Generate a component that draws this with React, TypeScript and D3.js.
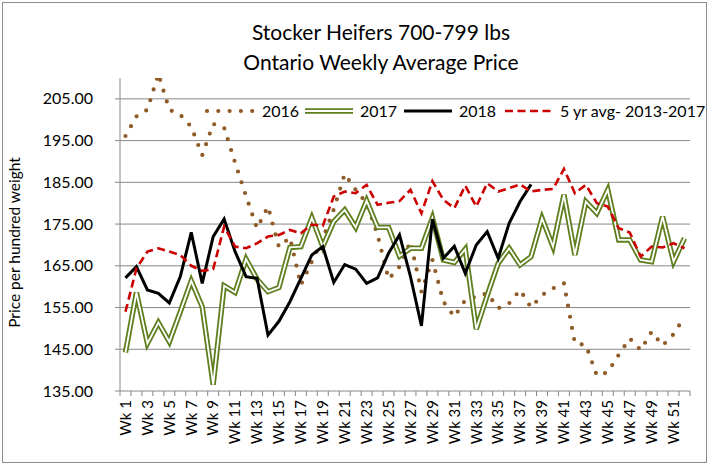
import * as d3 from 'd3'

const weeks = d3.range(1, 53).map((w) => `Wk ${w}`)
const tickWeeks = weeks.filter((_, i) => i % 2 === 0)
const yTicks = [135, 145, 155, 165, 175, 185, 195, 205]

const y2016 = [196.1, 200.8, 202.4, 211, 202.4, 201.2, 198.3, 191.5, 199, 198.1, 189.7, 181.7, 174, 179.2, 169.5, 171.8, 160.4, 166, 171.5, 178.5, 187, 183.2, 180, 172.4, 161.8, 164.8, 170.8, 158.8, 166.4, 156.4, 152.8, 156.8, 157.6, 158.4, 154.8, 156, 159.2, 155, 158, 159.6, 160.8, 146.4, 146, 138.7, 139.5, 143.7, 147.6, 144.8, 149.2, 145.9, 148.6, 152.8]
const y2017 = [144.2, 158.6, 146.4, 151.4, 146.8, 154, 161.4, 155.2, 136.5, 160.2, 158.6, 166.6, 161.8, 158.8, 159.8, 169.4, 169.6, 176.5, 169.6, 175.6, 178.4, 174.2, 180.6, 174.2, 174.2, 167.3, 169.2, 169.2, 176.5, 166.4, 165.8, 169, 149.8, 157.9, 165.6, 169.2, 165.2, 167.2, 176.4, 169.6, 182, 167.6, 180.4, 177.6, 183.2, 171.2, 171.2, 166.4, 166, 176.8, 166, 171.6]
const y2018 = [162.1, 164.8, 159.2, 158.4, 156.1, 162.4, 173, 160.8, 172, 176.2, 168.4, 162.4, 162, 148.4, 151.7, 156.4, 162, 167.6, 169.6, 161, 165.3, 164.2, 160.8, 162.1, 168, 172.4, 162.4, 150.6, 176.2, 166.8, 169.7, 163.2, 170, 173.2, 166.8, 175.2, 180.4, 184.5]
const y5yr = [154, 164.4, 168.4, 169.2, 168.4, 167.6, 165, 163.8, 164.2, 174.4, 169.6, 169.2, 170.4, 172, 172.4, 173.6, 172.8, 174.9, 174.6, 181.6, 182.8, 182.4, 184.4, 179.6, 180.1, 180.5, 183.2, 177.6, 185.3, 180.8, 178.8, 184.2, 179.2, 184.8, 182.8, 183.6, 184.5, 182.8, 183.2, 183.4, 188.2, 182.4, 184.4, 180, 179.2, 174, 173, 167.2, 169.6, 169.4, 170.4, 169.2]

const W = 713
const H = 466
const left = 120
const right = 690
const top = 78
const bottom = 391
const font = 'Lato, "Open Sans", sans-serif'

const olive = '#5f7f1f'
const brown = '#8f5b26'
const red = '#cc0000'
const axisGrey = '#888888'

export default function App() {
  const x = d3.scaleBand<string>().domain(weeks).range([left, right])
  const y = d3.scaleLinear().domain([135, 210]).range([bottom, top])
  const cx = (i: number) => (x(weeks[i]) ?? 0) + x.bandwidth() / 2

  const line = d3.line<number>().x((_, i) => cx(i)).y((d) => y(d))

  const legendY = 111
  const legend = [
    { label: '2016', x0: 205, kind: 'dots' },
    { label: '2017', x0: 303, kind: 'double' },
    { label: '2018', x0: 402, kind: 'black' },
    { label: '5 yr avg- 2013-2017', x0: 503, kind: 'dash' },
  ]

  const drawSeries = (d: string, kind: string) => {
    if (kind === 'dots')
      return <path d={d} fill="none" stroke={brown} strokeWidth={4.2} strokeLinecap="round" strokeDasharray="0 11.3" />
    if (kind === 'double')
      return (
        <g>
          <path d={d} fill="none" stroke={olive} strokeWidth={5.4} strokeLinejoin="miter" />
          <path d={d} fill="none" stroke="#ffffff" strokeWidth={1.8} strokeLinejoin="miter" />
        </g>
      )
    if (kind === 'black')
      return <path d={d} fill="none" stroke="#000000" strokeWidth={3} />
    return <path d={d} fill="none" stroke={red} strokeWidth={2.6} strokeDasharray="8 4.5" />
  }

  return (
    <svg width={W} height={H} style={{ position: 'absolute', left: 0, top: 0, background: '#fff' }} fontFamily={font}>
      <rect x={2.5} y={2.5} width={704} height={460} fill="#fff" stroke="#8c8c8c" strokeWidth={1} />
      <text x={381} y={40} textAnchor="middle" fontSize={21} fill="#000">Stocker Heifers 700-799 lbs</text>
      <text x={381} y={70} textAnchor="middle" fontSize={21} fill="#000">Ontario Weekly Average Price</text>

      {yTicks.map((t) => (
        <g key={t}>
          {t > 135 && <line x1={left} x2={right} y1={y(t)} y2={y(t)} stroke={axisGrey} strokeWidth={1} />}
          <line x1={left - 5} x2={left} y1={y(t)} y2={y(t)} stroke={axisGrey} />
          <text x={93} y={y(t)} dy="0.35em" textAnchor="end" fontSize={16} fill="#000">{t.toFixed(2)}</text>
        </g>
      ))}
      <line x1={left} x2={left} y1={top} y2={bottom} stroke={axisGrey} />
      <line x1={left} x2={right} y1={bottom} y2={bottom} stroke={axisGrey} />
      {d3.range(53).map((i) => {
        const xx = left + i * x.bandwidth()
        return <line key={i} x1={xx} x2={xx} y1={bottom} y2={bottom + 5} stroke={axisGrey} />
      })}
      {tickWeeks.map((w) => (
        <text key={w} transform={`translate(${(x(w) ?? 0) + x.bandwidth() / 2},${bottom + 9}) rotate(-90)`}
          textAnchor="end" dy="0.35em" fontSize={15} fill="#000">{w}</text>
      ))}
      <text transform={`translate(15,${(top + bottom) / 2 + 8}) rotate(-90)`} textAnchor="middle" dy="0.35em" fontSize={15.5} fill="#000">
        Price per hundred weight
      </text>

      <defs>
        <clipPath id="plot-clip">
          <rect x={left} y={top} width={right - left} height={bottom - top} />
        </clipPath>
      </defs>
      <g clipPath="url(#plot-clip)">
        {drawSeries(line(y2016) ?? '', 'dots')}
        {drawSeries(line(y2017) ?? '', 'double')}
        {drawSeries(line(y2018) ?? '', 'black')}
        {drawSeries(line(y5yr) ?? '', 'dash')}
      </g>

      {legend.map((l) => (
        <g key={l.label}>
          {drawSeries(`M${l.x0 + 2},${legendY}L${l.x0 + 50},${legendY}`, l.kind)}
          <text x={l.x0 + 57} y={legendY} dy="0.35em" fontSize={16} fill="#000">{l.label}</text>
        </g>
      ))}
    </svg>
  )
}
